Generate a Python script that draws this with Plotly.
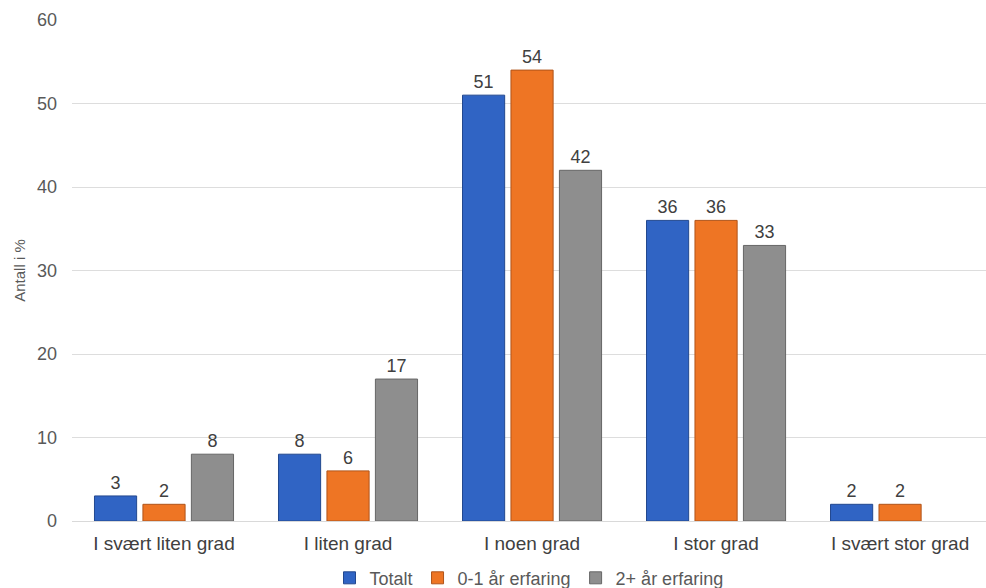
import plotly.graph_objects as go

categories = ["I svært liten grad", "I liten grad", "I noen grad", "I stor grad", "I svært stor grad"]
totalt = [3, 8, 51, 36, 2]
erfaring_0_1 = [2, 6, 54, 36, 2]
erfaring_2_pluss = [8, 17, 42, 33, None]

series = [
    ("Totalt", totalt, "#3064C4", "#22488F"),
    ("0-1 år erfaring", erfaring_0_1, "#EE7524", "#B0541A"),
    ("2+ år erfaring", erfaring_2_pluss, "#8E8E8E", "#666666"),
]

fig = go.Figure()
for name, vals, fill, edge in series:
    fig.add_trace(go.Bar(
        name=name,
        x=categories,
        y=vals,
        marker=dict(color=fill, line=dict(color=edge, width=1)),
        text=[("" if v is None else str(v)) for v in vals],
        textposition="outside",
        textfont=dict(size=18, color="#404040"),
        cliponaxis=False,
    ))

fig.update_layout(
    barmode="group",
    bargap=0.21,
    bargroupgap=0.13,
    width=986,
    height=588,
    margin=dict(l=72, r=0, t=20, b=67, autoexpand=False),
    paper_bgcolor="white",
    plot_bgcolor="white",
    font=dict(family="Liberation Sans, Arial, sans-serif", size=18, color="#595959"),
    showlegend=True,
    legend=dict(
        orientation="h",
        x=0.5, xanchor="center",
        y=-0.114, yanchor="middle",
        font=dict(size=18, color="#595959"),
        itemwidth=30,
        tracegroupgap=0,
        traceorder="normal",
    ),
    xaxis=dict(
        range=[-0.5, 4.467],
        automargin=False,
        showgrid=False,
        showline=True,
        linecolor="#D9D9D9",
        linewidth=1,
        ticks="",
        ticklabelstandoff=5,
        tickfont=dict(size=19, color="#404040"),
    ),
    yaxis=dict(
        range=[0, 60],
        dtick=10,
        automargin=False,
        showgrid=True,
        gridcolor="#DDDDDD",
        gridwidth=1,
        zeroline=False,
        showline=False,
        ticks="",
        ticklabelstandoff=14,
        tickfont=dict(size=18, color="#595959"),
        title=dict(text="Antall i %", font=dict(size=15, color="#595959"), standoff=7),
    ),
)

fig.write_html("out.html")
